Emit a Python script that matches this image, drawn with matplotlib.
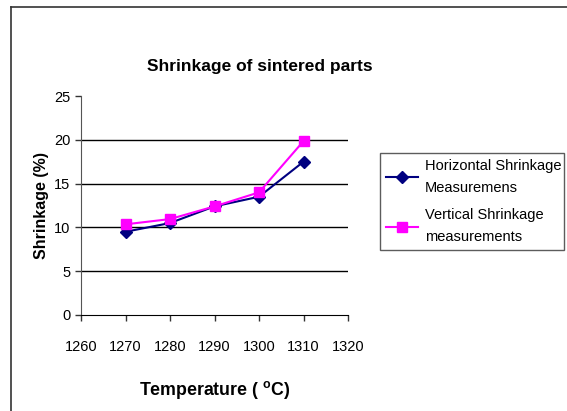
import numpy as np
import matplotlib
matplotlib.use("Agg")
import matplotlib.pyplot as plt
from matplotlib.lines import Line2D

plt.rcParams['font.family'] = ['Liberation Sans', 'DejaVu Sans']

temperature = [1270, 1280, 1290, 1300, 1310]
horizontal = [9.5, 10.5, 12.4, 13.5, 17.5]
vertical = [10.35, 10.95, 12.4, 14.0, 19.85]
x_ticks = [1260, 1270, 1280, 1290, 1300, 1310, 1320]
y_ticks = [0, 5, 10, 15, 20, 25]

fig = plt.figure(figsize=(5.67, 4.11), dpi=100)
ax = fig.add_axes([81/567, 1 - 315/411, (348 - 81)/567, (315 - 96)/411])

# gridlines at 5..20, no line at top
for y in y_ticks[1:-1]:
    ax.axhline(y, color='black', lw=1, zorder=1)

ax.plot(temperature, horizontal, color='#000080', marker='D', markersize=6,
        lw=1.5, label='Horizontal Shrinkage\nMeasuremens', zorder=3)
ax.plot(temperature, vertical, color='#FF00FF', marker='s', markersize=7,
        lw=1.5, label='Vertical Shrinkage\nmeasurements', zorder=3)

ax.set_xlim(1260, 1320)
ax.set_ylim(0, 25)
ax.set_xticks(x_ticks)
ax.set_yticks(y_ticks)
ax.tick_params(axis='both', direction='out', length=4, width=1, labelsize=10.5, color='#333333')
ax.tick_params(axis='x', pad=14)
for s in ['top', 'right']:
    ax.spines[s].set_visible(False)
ax.spines['left'].set_color('#555555')
ax.spines['bottom'].set_color('black')

ax.set_ylabel('Shrinkage (%)', fontsize=11.5, fontweight='bold', labelpad=4)
fig.text(215/567, 1 - 390/411, 'Temperature ( $^{\\mathregular{o}}$C)', fontsize=12.8,
         fontweight='bold', ha='center', va='center')
fig.text(260/567, 1 - 67/411, 'Shrinkage of sintered parts', fontsize=12.5,
         fontweight='bold', ha='center', va='center')

leg = fig.legend(loc='center left', bbox_to_anchor=(380/567, 1 - 251/411, (564 - 380)/567, (251 - 152)/411),
                 mode='expand', fontsize=10.5, frameon=True, fancybox=False,
                 edgecolor='#333333', handlelength=2.2, handletextpad=0.5,
                 borderpad=0.4, labelspacing=0.9, borderaxespad=0)
leg.get_frame().set_linewidth(1)
for t in leg.get_texts():
    t.set_linespacing(1.75)

# outer chart border (left and top edges)
fig.add_artist(Line2D([11/567, 11/567], [0, 1 - 7/411], color='#333333', lw=1.2, transform=fig.transFigure))
fig.add_artist(Line2D([11/567, 1], [1 - 7/411, 1 - 7/411], color='#333333', lw=1.2, transform=fig.transFigure))

fig.savefig('out.png', dpi=100)
